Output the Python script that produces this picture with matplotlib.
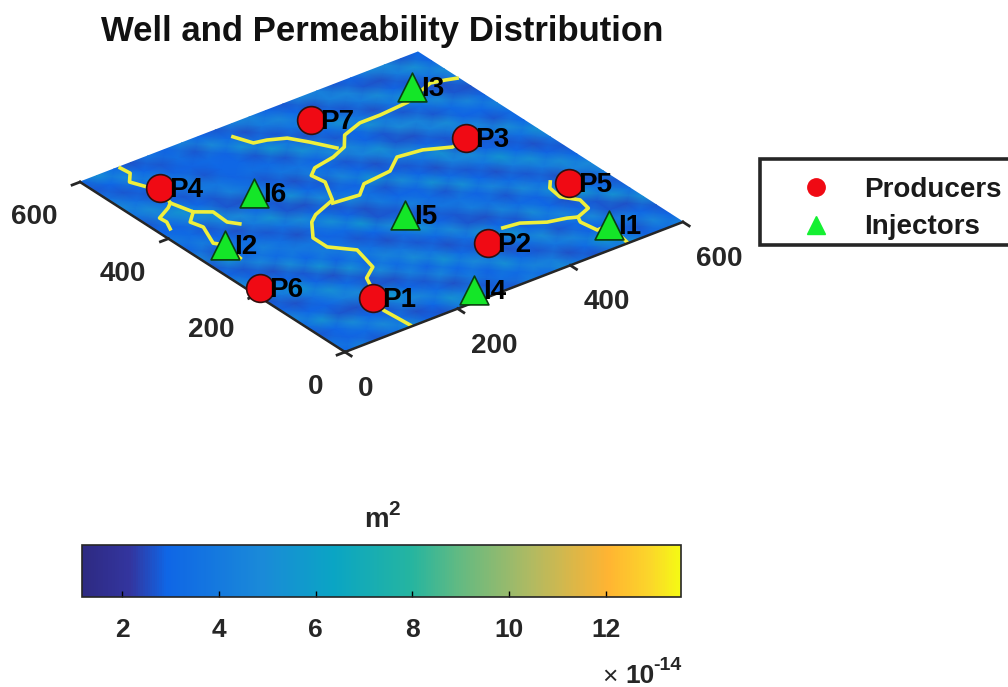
import numpy as np
import matplotlib
matplotlib.use('Agg')
import matplotlib.pyplot as plt
from matplotlib.colors import LinearSegmentedColormap
from matplotlib.lines import Line2D
from matplotlib.patches import Rectangle
from matplotlib.transforms import Affine2D

plt.rcParams['font.family'] = ['Liberation Sans', 'DejaVu Sans']
plt.rcParams['font.weight'] = 'bold'

# wells, in map coordinates
producers = ['P1', 'P2', 'P3', 'P4', 'P5', 'P6', 'P7']
prod_x = [124, 347, 504, 78, 541, 16, 364]
prod_y = [95, 119, 369, 519, 183, 213, 541]
injectors = ['I1', 'I2', 'I3', 'I4', 'I5', 'I6']
inj_x = [513, 52, 533, 250, 304, 174]
inj_y = [56, 338, 528, 27, 251, 428]

# high permeability channels
main_x = [598, 582, 560, 502, 449, 413, 375, 354, 324, 285, 268, 272, 249, 205, 188, 162, 162, 190, 178, 152, 115, 119]
main_y = [509, 515, 521, 498, 493, 493, 479, 453, 440, 432, 418, 392, 346, 328, 315, 279, 247, 215, 164, 145, 60, 4]
west_x = [344, 324, 306, 280, 260, 248]
west_y = [457, 493, 521, 534, 539, 570]
p3_x = [244, 288, 312, 363, 395, 436, 474, 504]
p3_y = [339, 334, 355, 361, 386, 380, 361, 369]
p4_x = [69, 71, 55, 66, 78, 64, 74, 96, 94, 105]
p4_y = [597, 577, 558, 532, 519, 477, 438, 421, 387, 372]
p4s_x = [64, 53, 26, 27, 19]
p4s_y = [477, 468, 453, 438, 420]
i2_x = [74, 53, 59, 42, 52, 46]
i2_y = [438, 418, 396, 352, 338, 296]
p2_x = [390, 417, 449, 478, 492, 519, 524, 507, 511, 522]
p2_y = [140, 136, 115, 107, 100, 111, 136, 160, 188, 201]
i1_x = [492, 486, 491, 513, 503]
i1_y = [100, 87, 55, 56, 3]

# background permeability, x 1e-14 m2, on a 30 m grid
perm = np.array([
    [3.0, 4.4, 2.7, 3.4, 5.2, 2.9, 2.6, 4.0, 5.5, 3.2, 2.7, 4.2, 3.0, 5.0, 3.6, 2.6, 3.8, 5.3, 2.9, 3.4, 4.6],
    [3.8, 2.9, 3.2, 4.9, 3.4, 2.6, 3.0, 5.3, 3.8, 2.7, 3.4, 3.2, 4.6, 4.2, 2.6, 3.2, 5.5, 3.0, 2.7, 4.7, 2.9],
    [2.7, 3.0, 5.0, 3.0, 2.7, 4.4, 4.7, 3.2, 2.6, 4.0, 2.9, 5.2, 3.2, 2.7, 3.8, 4.6, 2.9, 3.0, 4.4, 3.0, 2.7],
    [3.2, 5.3, 2.7, 2.6, 3.8, 5.7, 3.0, 2.7, 4.6, 3.0, 4.9, 3.8, 2.6, 3.4, 5.0, 2.7, 3.2, 4.9, 2.7, 2.6, 5.2],
    [4.7, 3.0, 2.9, 4.2, 4.9, 2.7, 2.6, 4.4, 2.9, 5.3, 3.2, 2.7, 3.0, 5.5, 2.9, 3.4, 4.7, 2.9, 2.7, 5.3, 3.4],
    [2.9, 2.6, 3.6, 5.2, 3.2, 2.7, 4.9, 3.2, 5.0, 3.6, 2.6, 3.4, 5.2, 3.0, 2.7, 5.0, 3.0, 2.6, 5.5, 3.2, 2.7],
    [2.6, 4.0, 5.5, 2.9, 2.6, 5.2, 3.0, 4.6, 3.8, 2.7, 3.2, 4.9, 2.7, 2.6, 4.6, 3.2, 2.9, 5.2, 3.0, 2.7, 4.2],
    [4.2, 5.0, 3.0, 2.7, 5.3, 2.9, 4.4, 3.4, 2.6, 3.4, 5.3, 2.9, 2.7, 4.2, 3.4, 2.7, 4.9, 3.4, 2.6, 4.4, 4.9],
    [4.9, 2.9, 2.6, 5.0, 3.0, 4.2, 3.6, 2.7, 3.0, 5.0, 3.0, 2.6, 3.8, 3.6, 2.9, 4.7, 3.2, 2.7, 4.0, 5.0, 3.0],
    [3.0, 2.7, 4.7, 3.2, 4.0, 3.8, 2.9, 3.2, 5.5, 2.7, 2.7, 4.4, 3.2, 2.7, 5.2, 3.0, 2.6, 4.2, 5.2, 2.9, 2.7],
    [2.7, 5.2, 2.9, 4.4, 3.4, 2.6, 3.4, 5.2, 2.9, 2.6, 4.0, 3.0, 2.9, 5.3, 3.2, 2.7, 3.8, 5.5, 3.0, 2.6, 3.8],
    [4.6, 2.7, 3.8, 3.2, 2.7, 3.6, 5.0, 3.0, 2.7, 4.6, 3.4, 2.7, 5.0, 3.0, 2.6, 4.4, 5.0, 2.9, 2.7, 3.4, 5.3],
    [2.9, 4.2, 3.0, 2.6, 4.0, 5.3, 2.7, 2.6, 4.9, 3.2, 2.9, 5.5, 2.9, 2.7, 3.8, 5.3, 2.7, 2.6, 3.6, 5.0, 3.0],
    [4.0, 3.2, 2.7, 4.4, 4.9, 2.9, 2.7, 5.2, 3.0, 2.7, 4.7, 3.0, 2.6, 4.2, 4.9, 2.9, 2.7, 4.0, 4.7, 2.7, 3.2],
    [3.0, 2.9, 4.6, 5.2, 2.7, 2.6, 4.7, 3.2, 2.6, 4.2, 3.2, 2.7, 4.4, 5.2, 2.7, 2.6, 4.4, 5.0, 2.9, 3.0, 4.6],
    [2.7, 4.2, 5.5, 3.0, 2.7, 4.4, 3.4, 2.7, 3.8, 3.6, 2.9, 4.9, 4.6, 2.9, 2.7, 4.9, 4.6, 2.7, 3.2, 4.7, 2.9],
    [3.6, 5.0, 3.2, 2.7, 4.0, 3.8, 2.9, 3.4, 3.2, 2.7, 5.2, 4.2, 2.7, 3.0, 5.2, 4.0, 2.7, 3.4, 5.0, 2.7, 2.6],
    [4.9, 3.4, 2.6, 3.6, 4.2, 2.7, 3.0, 3.0, 2.7, 5.5, 3.8, 2.6, 3.2, 5.3, 3.6, 2.6, 3.8, 5.3, 2.7, 2.6, 4.0],
    [3.6, 2.7, 3.2, 4.6, 2.9, 2.9, 3.2, 2.9, 5.2, 3.4, 2.7, 3.6, 5.0, 3.2, 2.7, 4.0, 5.0, 2.9, 2.7, 3.8, 5.0],
    [2.7, 3.0, 4.9, 3.0, 2.7, 3.4, 2.7, 4.9, 3.2, 2.6, 4.0, 4.7, 3.0, 2.6, 4.4, 4.7, 2.7, 2.6, 4.2, 5.2, 2.9],
    [2.9, 5.2, 3.2, 2.6, 3.8, 2.9, 4.6, 3.0, 2.7, 4.4, 4.6, 2.9, 2.7, 4.7, 4.4, 2.7, 2.9, 4.6, 4.9, 2.7, 3.0],
])
grid_x = np.linspace(0, 600, 21)
grid_y = np.linspace(0, 600, 21)

xticks = [0, 200, 400, 600]
yticks = [0, 200, 400, 600]
cticks = [2, 4, 6, 8, 10, 12]
vmin, vmax = 1.17, 13.55

cmap = LinearSegmentedColormap.from_list('parula_like', [
    (0.0, '#2E2A82'), (0.08, '#33359F'), (0.14, '#0F66E6'), (0.30, '#1A8AD8'),
    (0.42, '#0AA5C4'), (0.55, '#25B5A0'), (0.63, '#62BA82'), (0.75, '#B0BA62'),
    (0.88, '#FFB432'), (0.95, '#FBD62A'), (1.0, '#F5FA14')])

fig = plt.figure(figsize=(10.08, 6.87), dpi=100)
ax = fig.add_axes([0, 0, 1, 1])
ax.set_axis_off()

# the tilted MATLAB view is just an affine map onto the page
view = Affine2D.from_values(0.5633, -0.2167, -0.4417, -0.2833, 345, 352) + ax.transData

mesh = ax.pcolormesh(grid_x, grid_y, perm, shading='gouraud', cmap=cmap,
                     vmin=vmin, vmax=vmax, transform=view)

for cx, cy in [(main_x, main_y), (west_x, west_y), (p3_x, p3_y), (p4_x, p4_y), (p4s_x, p4s_y),
               (i2_x, i2_y), (p2_x, p2_y), (i1_x, i1_y)]:
    ax.plot(cx, cy, color='#EFEF3C', lw=2.6, transform=view, solid_joinstyle='round')

# axis lines and outward ticks
ax.plot([0, 600], [0, 0], color='#262626', lw=1.8, transform=view)
ax.plot([0, 0], [0, 600], color='#262626', lw=1.8, transform=view)
for t in xticks:
    ax.plot([t, t], [0, -14], color='#262626', lw=2, transform=view)
    ax.annotate(str(t), (t, 0), xycoords=view, xytext=(13, -37), textcoords='offset pixels',
                ha='left', va='center', fontsize=20, color='#262626')
for t in yticks:
    ax.plot([0, -14], [t, t], color='#262626', lw=2, transform=view)
    ax.annotate(str(t), (0, t), xycoords=view, xytext=(-22, -35), textcoords='offset pixels',
                ha='right', va='center', fontsize=20, color='#262626')

ax.scatter(prod_x, prod_y, s=400, c='#F00A14', edgecolors='#30100F', linewidths=1.2,
           transform=view, zorder=5)
ax.scatter(inj_x, inj_y, s=430, marker='^', c='#14E628', edgecolors='#0A400F', linewidths=1.2,
           transform=view, zorder=5)
for name, x, y in zip(producers + injectors, prod_x + inj_x, prod_y + inj_y):
    ax.annotate(name, (x, y), xycoords=view, xytext=(9, -2), textcoords='offset pixels',
                ha='left', va='center', fontsize=20, color='black', zorder=6)

ax.set_xlim(0, 1008)
ax.set_ylim(687, 0)
ax.text(382, 31, 'Well and Permeability Distribution', ha='center', va='center',
        fontsize=25, color='#111111')

# legend box runs off the right side of the page in the original
ax.add_patch(Rectangle((760, 159), 300, 86, fc='white', ec='#262626', lw=2.6, zorder=7))
handles = [Line2D([], [], ls='none', marker='o', ms=12.5, color='#F00A14'),
           Line2D([], [], ls='none', marker='^', ms=13, color='#14F032')]
leg = ax.legend(handles, ['Producers', 'Injectors'], loc='upper left',
                bbox_to_anchor=(760 / 1008, 1 - 163 / 687), bbox_transform=fig.transFigure,
                fontsize=20, borderaxespad=0, borderpad=0.5, handlelength=3, handletextpad=0.24,
                labelspacing=0.41, frameon=False)
leg.set_zorder(8)
for txt in leg.get_texts():
    txt.set_color('#1A1A1A')

cax = fig.add_axes([82 / 1008, 1 - 597 / 687, 599 / 1008, 52 / 687])
cb = fig.colorbar(mesh, cax=cax, orientation='horizontal')
cb.set_ticks(cticks)
cb.ax.tick_params(direction='in', length=4, width=1, pad=15, labelsize=19, labelcolor='#262626')
cb.outline.set_linewidth(1.2)
cb.outline.set_edgecolor('#262626')

ax.text(364, 527, 'm', ha='left', va='baseline', fontsize=20, color='#262626')
ax.text(388, 515, '2', ha='left', va='baseline', fontsize=15, color='#262626')
ax.text(610, 684, '\u00d7', ha='center', va='baseline', fontsize=19, color='#262626', fontweight='normal')
ax.text(625, 683, '10', ha='left', va='baseline', fontsize=19, color='#262626')
ax.text(653, 670, '-14', ha='left', va='baseline', fontsize=14, color='#262626')

fig.savefig('out.png', dpi=100)
